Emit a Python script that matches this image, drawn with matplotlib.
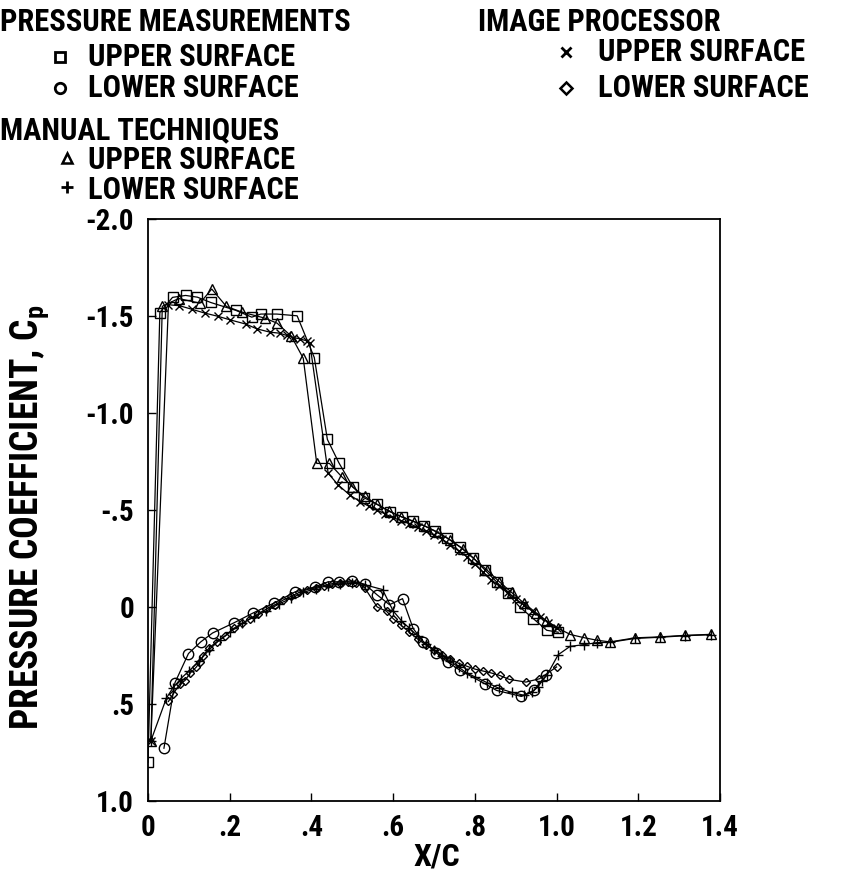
import matplotlib
matplotlib.use("Agg")
import matplotlib.pyplot as plt
from matplotlib.lines import Line2D
from matplotlib import font_manager

bold_names = {f.name for f in font_manager.fontManager.ttflist if int(f.weight) >= 700}
FONT = 'Liberation Sans'
for cand in ['Roboto Condensed', 'Archivo Narrow', 'PT Sans Narrow', 'Sofia Sans Condensed',
             'Open Sans Condensed', 'Saira SemiCondensed', 'Liberation Sans']:
    if cand in bold_names:
        FONT = cand
        break
plt.rcParams['font.family'] = [FONT, 'DejaVu Sans']
plt.rcParams['font.weight'] = 'bold'
plt.rcParams['mathtext.fontset'] = 'custom'
plt.rcParams['mathtext.rm'] = FONT + ':bold'
plt.rcParams['mathtext.it'] = FONT + ':bold'
plt.rcParams['mathtext.bf'] = FONT + ':bold'

# ---- data ----
pm_up_x = [0.0, 0.029, 0.060, 0.092, 0.121, 0.153, 0.215, 0.254, 0.276, 0.315, 0.365, 0.407, 0.439,
           0.467, 0.501, 0.529, 0.560, 0.592, 0.621, 0.649, 0.676, 0.702, 0.731, 0.764, 0.795,
           0.825, 0.853, 0.880, 0.910, 0.943, 0.976, 1.004]
pm_up_cp = [0.80, -1.518, -1.596, -1.606, -1.597, -1.570, -1.529, -1.494, -1.510, -1.510, -1.501, -1.286,
            -0.864, -0.744, -0.620, -0.563, -0.530, -0.491, -0.465, -0.443, -0.419, -0.391, -0.357,
            -0.310, -0.255, -0.190, -0.130, -0.070, 0.0, 0.060, 0.120, 0.130]

pm_lo_x = [0.039, 0.066, 0.099, 0.129, 0.158, 0.210, 0.258, 0.309, 0.360, 0.409, 0.441, 0.467, 0.500,
           0.531, 0.560, 0.591, 0.623, 0.649, 0.674, 0.705, 0.735, 0.764, 0.825, 0.853, 0.914, 0.944, 0.975]
pm_lo_cp = [0.728, 0.390, 0.240, 0.180, 0.134, 0.082, 0.030, -0.021, -0.078, -0.104, -0.130, -0.130,
            -0.135, -0.117, -0.064, -0.012, -0.043, 0.111, 0.180, 0.235, 0.285, 0.327, 0.396, 0.430,
            0.461, 0.430, 0.350]

ip_up_x = [0.007, 0.050, 0.077, 0.107, 0.139, 0.172, 0.201, 0.240, 0.266, 0.298, 0.323, 0.339, 0.356,
           0.372, 0.388, 0.396, 0.441, 0.466, 0.494, 0.519, 0.54, 0.56, 0.58, 0.60, 0.62, 0.64, 0.66,
           0.68, 0.70, 0.72, 0.74, 0.76, 0.78, 0.80, 0.82, 0.84, 0.86, 0.88, 0.90, 0.92, 0.94, 0.96,
           0.98, 1.00]
ip_up_cp = [0.69, -1.558, -1.553, -1.535, -1.515, -1.498, -1.480, -1.458, -1.434, -1.417, -1.411, -1.400,
            -1.389, -1.382, -1.372, -1.36, -0.689, -0.628, -0.577, -0.543, -0.52, -0.50, -0.48, -0.46,
            -0.445, -0.43, -0.41, -0.39, -0.37, -0.35, -0.32, -0.29, -0.26, -0.22, -0.18, -0.14, -0.11,
            -0.075, -0.04, -0.01, 0.02, 0.05, 0.08, 0.11]

ip_lo_x = [0.050, 0.062, 0.078, 0.090, 0.104, 0.118, 0.127, 0.135, 0.150, 0.168, 0.189, 0.21, 0.23,
           0.25, 0.27, 0.29, 0.31, 0.33, 0.35, 0.37, 0.39, 0.41, 0.43, 0.45, 0.47, 0.49, 0.51, 0.53,
           0.561, 0.584, 0.60, 0.62, 0.64, 0.66, 0.68, 0.70, 0.72, 0.74, 0.76, 0.78, 0.80, 0.82, 0.84,
           0.861, 0.884, 0.925, 0.958, 1.000]
ip_lo_cp = [0.487, 0.447, 0.396, 0.38, 0.339, 0.31, 0.284, 0.25, 0.21, 0.18, 0.15, 0.11, 0.085, 0.06,
            0.035, 0.01, -0.01, -0.035, -0.055, -0.075, -0.09, -0.10, -0.11, -0.12, -0.125, -0.13,
            -0.125, -0.10, 0.0, 0.022, 0.06, 0.095, 0.13, 0.165, 0.195, 0.22, 0.245, 0.27, 0.29, 0.305,
            0.32, 0.33, 0.34, 0.353, 0.373, 0.387, 0.370, 0.309]

mt_up_x = [0.007, 0.035, 0.075, 0.127, 0.156, 0.192, 0.23, 0.286, 0.316, 0.351, 0.380, 0.413, 0.444,
           0.474, 0.50, 0.53, 0.56, 0.59, 0.62, 0.65, 0.68, 0.71, 0.74, 0.77, 0.80, 0.83, 0.86, 0.89,
           0.92, 0.95, 0.975, 1.004, 1.034, 1.067, 1.098, 1.131, 1.192, 1.253, 1.315, 1.377]
mt_up_cp = [0.69, -1.55, -1.59, -1.566, -1.639, -1.549, -1.52, -1.489, -1.463, -1.395, -1.282, -0.74,
            -0.74, -0.672, -0.62, -0.57, -0.53, -0.495, -0.465, -0.44, -0.415, -0.385, -0.345, -0.30,
            -0.245, -0.19, -0.13, -0.075, -0.02, 0.03, 0.07, 0.11, 0.142, 0.158, 0.171, 0.180, 0.159,
            0.154, 0.146, 0.141]

mt_lo_x = [0.007, 0.045, 0.06, 0.08, 0.10, 0.125, 0.15, 0.175, 0.20, 0.23, 0.26, 0.29, 0.32, 0.35,
           0.38, 0.41, 0.44, 0.47, 0.50, 0.53, 0.574, 0.60, 0.62, 0.64, 0.66, 0.68, 0.70, 0.72, 0.74,
           0.76, 0.78, 0.80, 0.83, 0.86, 0.89, 0.92, 0.94, 0.955, 0.965, 0.976, 1.004, 1.033, 1.067,
           1.098, 1.131, 1.192, 1.253, 1.315, 1.377]
mt_lo_cp = [0.69, 0.47, 0.42, 0.37, 0.33, 0.28, 0.22, 0.17, 0.13, 0.085, 0.05, 0.02, -0.015, -0.045,
            -0.075, -0.095, -0.11, -0.12, -0.125, -0.115, -0.09, 0.02, 0.07, 0.11, 0.15, 0.19, 0.22,
            0.25, 0.28, 0.31, 0.34, 0.36, 0.39, 0.42, 0.44, 0.455, 0.44, 0.41, 0.38, 0.353, 0.246,
            0.203, 0.194, 0.184, 0.182, 0.162, 0.156, 0.148, 0.143]

xticks = [0, 0.2, 0.4, 0.6, 0.8, 1.0, 1.2, 1.4]
xticklabels = ['0', '.2', '.4', '.6', '.8', '1.0', '1.2', '1.4']
yticks = [-2.0, -1.5, -1.0, -0.5, 0, 0.5, 1.0]
yticklabels = ['-2.0', '-1.5', '-1.0', '-.5', '0', '.5', '1.0']

W, H = 851, 875
fig = plt.figure(figsize=(W / 100, H / 100), dpi=100)
ax = fig.add_axes([148 / W, 1 - 801 / H, (720 - 148) / W, (801 - 219) / H])

lw = 0.9
mk = dict(color='black', lw=lw, mfc='none', mec='black', mew=1.0)
ax.plot(pm_up_x, pm_up_cp, marker='s', ms=7, **mk)
ax.plot(pm_lo_x, pm_lo_cp, marker='o', ms=7.5, **mk)
ax.plot(ip_up_x, ip_up_cp, marker='x', ms=6, **mk)
ax.plot(ip_lo_x, ip_lo_cp, marker='D', ms=4.5, **mk)
ax.plot(mt_up_x, mt_up_cp, marker='^', ms=7, **mk)
ax.plot(mt_lo_x, mt_lo_cp, marker='+', ms=7, **mk)

ax.set_xlim(0, 1.4)
ax.set_ylim(1.0, -2.0)
ax.set_xticks(xticks)
ax.set_xticklabels(xticklabels)
ax.set_yticks(yticks)
ax.set_yticklabels(yticklabels)
ax.tick_params(direction='in', length=6, width=1, labelsize=21)
ax.tick_params(axis='x', pad=9)
ax.tick_params(axis='y', pad=10)
for s in ax.spines.values():
    s.set_linewidth(1.3)

ax.set_xlabel('X/C', fontsize=23, fontweight='bold')
ax.xaxis.set_label_coords((437 - 148) / 572, (801 - 856) / 582)
ax.xaxis.label.set_va('center')
ax.set_ylabel(r'PRESSURE COEFFICIENT, C$_\mathrm{p}$', fontsize=27, fontweight='bold')
ax.yaxis.set_label_coords((30 - 148) / 572, (801 - 517) / 582)
ax.yaxis.label.set_va('center')

# ---- legend block ----
FS = 22

def ftxt(x, y, s):
    fig.text(x / W, 1 - y / H, s, fontsize=FS, fontweight='bold', va='center', ha='left')

def fmark(x, y, m, ms, mew=1.3):
    fig.add_artist(Line2D([x / W], [1 - y / H], marker=m, ms=ms, mfc='none', mec='black',
                          mew=mew, ls='none', transform=fig.transFigure))

ftxt(0, 22, 'PRESSURE MEASUREMENTS')
fmark(60, 57, 's', 7.5, 2)
ftxt(88, 57, 'UPPER SURFACE')
fmark(60, 88, 'o', 7.5, 2)
ftxt(88, 88, 'LOWER SURFACE')
ftxt(0, 130, 'MANUAL TECHNIQUES')
fmark(67, 158, '^', 7.5, 1.8)
ftxt(88, 160, 'UPPER SURFACE')
fmark(67, 187, '+', 9, 2)
ftxt(88, 190, 'LOWER SURFACE')
ftxt(478, 22, 'IMAGE PROCESSOR')
fmark(566, 52, 'x', 7, 2)
ftxt(598, 52, 'UPPER SURFACE')
fmark(566, 88, 'D', 6, 1.8)
ftxt(598, 88, 'LOWER SURFACE')

fig.savefig('out.png', dpi=100)
